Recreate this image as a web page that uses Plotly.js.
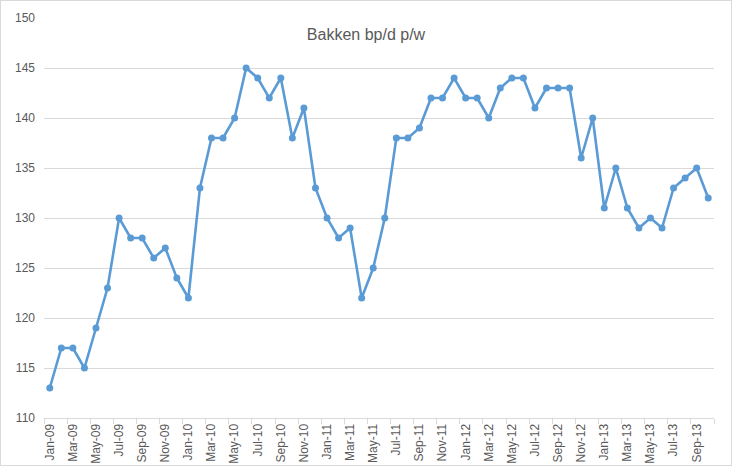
<!DOCTYPE html>
<html>
<head>
<meta charset="utf-8">
<script src="https://cdn.plot.ly/plotly-3.0.1.min.js"></script>
<style>
html,body{margin:0;padding:0;background:#fff;}
#chart{width:730px;height:464px;border:1px solid #d9d9d9;}
</style>
</head>
<body>
<div id="chart"></div>
<script>
const months = [
  "Jan-09","Feb-09","Mar-09","Apr-09","May-09","Jun-09","Jul-09","Aug-09","Sep-09","Oct-09","Nov-09","Dec-09",
  "Jan-10","Feb-10","Mar-10","Apr-10","May-10","Jun-10","Jul-10","Aug-10","Sep-10","Oct-10","Nov-10","Dec-10",
  "Jan-11","Feb-11","Mar-11","Apr-11","May-11","Jun-11","Jul-11","Aug-11","Sep-11","Oct-11","Nov-11","Dec-11",
  "Jan-12","Feb-12","Mar-12","Apr-12","May-12","Jun-12","Jul-12","Aug-12","Sep-12","Oct-12","Nov-12","Dec-12",
  "Jan-13","Feb-13","Mar-13","Apr-13","May-13","Jun-13","Jul-13","Aug-13","Sep-13","Oct-13"
];
const bpdPerWell = [
  113,117,117,115,119,123,130,128,128,126,127,124,
  122,133,138,138,140,145,144,142,144,138,141,133,
  130,128,129,122,125,130,138,138,139,142,142,144,
  142,142,140,143,144,144,141,143,143,143,136,140,
  131,135,131,129,130,129,133,134,135,132
];
const chartTitle = "Bakken bp/d p/w";

const trace = {
  x: months,
  y: bpdPerWell,
  type: "scatter",
  mode: "lines+markers",
  line: {color: "#5B9BD5", width: 2.6},
  marker: {color: "#5B9BD5", size: 7},
  hoverinfo: "x+y"
};

const font = "'Liberation Sans Narrow', 'Liberation Sans', Arial, sans-serif";
const layout = {
  width: 730, height: 464,
  margin: {l: 43, r: 17, t: 17, b: 47, pad: 0},
  paper_bgcolor: "#ffffff",
  plot_bgcolor: "#ffffff",
  showlegend: false,
  title: {
    text: chartTitle,
    font: {family: font, size: 16, color: "#595959"},
    x: 0.5, xanchor: "center",
    yref: "container", y: 0.929, yanchor: "middle"
  },
  xaxis: {
    type: "category",
    range: [-0.5, months.length - 0.5],
    dtick: 2,
    tickson: "boundaries",
    ticks: "outside",
    ticklen: 5,
    tickcolor: "#d9d9d9",
    tickangle: -90,
    showline: true,
    linecolor: "#d9d9d9",
    linewidth: 1,
    showgrid: false,
    zeroline: false,
    tickfont: {family: font, size: 12, color: "#595959"}
  },
  yaxis: {
    range: [110, 150],
    dtick: 5,
    tick0: 110,
    showgrid: true,
    gridcolor: "#d9d9d9",
    gridwidth: 1,
    zeroline: false,
    showline: false,
    ticks: "",
    ticklabelstandoff: 8,
    tickfont: {family: font, size: 12, color: "#595959"}
  }
};

Plotly.newPlot("chart", [trace], layout, {displayModeBar: false, staticPlot: true});
</script>
</body>
</html>
